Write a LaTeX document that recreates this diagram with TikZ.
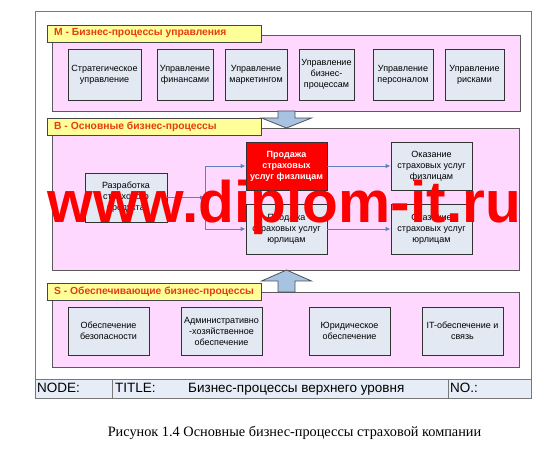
\documentclass[tikz,border=0pt]{standalone}
\usepackage{fontspec}
\setmainfont{Liberation Sans}
\newfontfamily\capfont{Liberation Serif}
\usetikzlibrary{arrows.meta}
\definecolor{pinkbg}{RGB}{255,216,255}
\definecolor{panelborder}{RGB}{90,90,90}
\definecolor{tagfill}{RGB}{255,255,153}
\definecolor{tagborder}{RGB}{70,70,70}
\definecolor{tagred}{RGB}{228,60,20}
\definecolor{boxfill}{RGB}{227,233,243}
\definecolor{boxborder}{RGB}{50,50,50}
\definecolor{flowblue}{RGB}{95,128,190}
\definecolor{arrowfill}{RGB}{168,194,226}
\definecolor{arrowborder}{RGB}{80,80,80}
\definecolor{framegray}{RGB}{120,120,120}
\definecolor{titlebg}{RGB}{230,237,247}
\definecolor{redbox}{RGB}{255,0,0}
\tikzset{
  pinkpanel/.style={draw=panelborder, fill=pinkbg, line width=0.9pt, inner sep=0, anchor=north west},
  secttag/.style={draw=tagborder, fill=tagfill, line width=0.9pt, anchor=north west,
    minimum height=17, minimum width=214, inner sep=0},
  tagtext/.style={anchor=west, inner sep=0, text=tagred, font=\fontsize{10.3}{12}\selectfont\bfseries},
  procbox/.style={draw=boxborder, fill=boxfill, line width=0.8pt, align=center,
    font=\fontsize{9}{11}\selectfont, inner sep=1pt},
  hotbox/.style={procbox, fill=redbox, text=white, font=\fontsize{9}{11}\selectfont\bfseries},
  flow/.style={draw=flowblue, line width=0.9pt, -{Latex[length=5pt,width=4.5pt]}},
  blockarrow/.style={draw=arrowborder, fill=arrowfill, line width=0.8pt},
  cell/.style={draw=framegray, fill=titlebg, line width=1pt, anchor=north west, minimum height=19, inner sep=0},
  celltext/.style={anchor=base west, inner sep=0, font=\fontsize{13.5}{15}\selectfont},
}
\begin{document}
\begin{tikzpicture}[x=1pt,y=-1pt]
\useasboundingbox (0,0) rectangle (552,457);
\fill[white] (0,0) rectangle (552,457);

% outer frame
\node[draw=framegray, line width=1.2pt, fill=white, anchor=north west, minimum width=496, minimum height=387, inner sep=0] (frame) at (35,11) {};

% title row
\node[cell, minimum width=77] (cnode) at (35,379) {};
\node[cell, minimum width=336] (ctitle) at (112,379) {};
\node[cell, minimum width=83] (cno) at (448,379) {};
\node[celltext] (tnode) at (37,392) {NODE:};
\node[celltext] (ttitle) at (115,392) {TITLE:};
\node[celltext] (tname) at (188,392) {Бизнес-процессы верхнего уровня};
\node[celltext] (tno) at (450,392) {NO.:};

% panels
\node[pinkpanel, minimum width=468, minimum height=76] (pM) at (52,35) {};
\node[pinkpanel, minimum width=467, minimum height=142] (pB) at (52,128) {};
\node[pinkpanel, minimum width=467, minimum height=75] (pS) at (52,292) {};

% block arrows
\draw[blockarrow] (278,111) -- (278,118) -- (261.5,118) -- (286.5,128) -- (311.5,118) -- (295,118) -- (295,111) -- cycle;
\draw[blockarrow] (278,292) -- (278,281) -- (261.5,281) -- (286.5,270) -- (311.5,281) -- (295,281) -- (295,292) -- cycle;

% tags
\node[secttag] (tagM) at (47,25) {};
\node[tagtext] (tagMt) at (54,33.5) {M - Бизнес-процессы управления};
\node[secttag] (tagB) at (47,118) {};
\node[tagtext] (tagBt) at (54,126.5) {B - Основные бизнес-процессы};
\node[secttag] (tagS) at (47,283) {};
\node[tagtext] (tagSt) at (54,291.5) {S - Обеспечивающие бизнес-процессы};

% M boxes
\node[procbox, minimum width=73, minimum height=51] (m1) at (104.5,74.5) {Стратегическое\\управление};
\node[procbox, minimum width=56, minimum height=51] (m2) at (185,74.5) {Управление\\финансами};
\node[procbox, minimum width=62, minimum height=51] (m3) at (256,74.5) {Управление\\маркетингом};
\node[procbox, minimum width=55, minimum height=51] (m4) at (326.5,74.5) {Управление\\бизнес-\\процессам};
\node[procbox, minimum width=60, minimum height=51] (m5) at (403,74.5) {Управление\\персоналом};
\node[procbox, minimum width=59, minimum height=51] (m6) at (474.5,74.5) {Управление\\рисками};

% B boxes
\node[procbox, minimum width=82, minimum height=49] (razr) at (126,197.5) {Разработка\\страхового\\продукта};
\node[hotbox, minimum width=81, minimum height=48] (prfiz) at (286.5,166) {Продажа\\страховых\\услуг физлицам};
\node[procbox, minimum width=81, minimum height=50] (prjur) at (286.5,229) {Продажа\\страховых услуг\\юрлицам};
\node[procbox, minimum width=81, minimum height=48] (okfiz) at (431.5,166) {Оказание\\страховых услуг\\физлицам};
\node[procbox, minimum width=81, minimum height=50] (okjur) at (431.5,229) {Оказание\\страховых услуг\\юрлицам};

\coordinate (J) at (205,197.5);
\draw[flow] (razr) -- (J);
\draw[flow] (J) |- (prfiz);
\draw[flow] (J) |- (prjur);
\draw[flow] (prfiz) -- (okfiz);
\draw[flow] (prjur) -- (okjur);

% S boxes
\node[procbox, minimum width=81, minimum height=48] (s1) at (108.5,331) {Обеспечение\\безопасности};
\node[procbox, minimum width=81, minimum height=48] (s2) at (221.5,331) {Административно\\-хозяйственное\\обеспечение};
\node[procbox, minimum width=81, minimum height=48] (s3) at (349.5,331) {Юридическое\\обеспечение};
\node[procbox, minimum width=81, minimum height=48] (s4) at (462.5,331) {IT-обеспечение и\\связь};

% watermark
\node[anchor=base west, inner sep=0, text=redbox, font=\fontsize{58.6}{60}\selectfont\bfseries] (wm) at (47.5,223) {www.diplom-it.ru};

% caption
\node[font=\capfont\fontsize{14.3}{16}\selectfont, inner sep=0] (cap) at (294.5,433) {Рисунок 1.4 Основные бизнес-процессы страховой компании};
\end{tikzpicture}
\end{document}
